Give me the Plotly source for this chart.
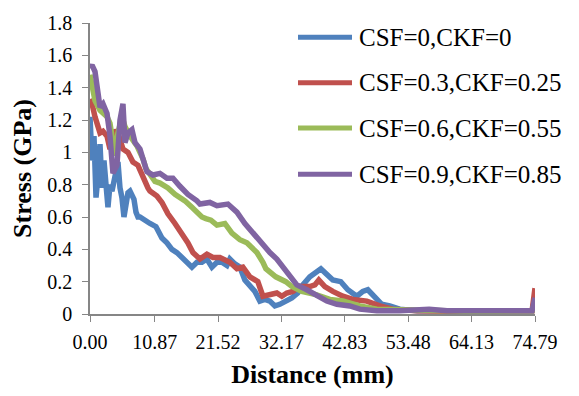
import plotly.graph_objects as go

# Stress along the distance for four CSF/CKF combinations
names = ["CSF=0,CKF=0", "CSF=0.3,CKF=0.25", "CSF=0.6,CKF=0.55", "CSF=0.9,CKF=0.85"]
colors = ["#4F81BD", "#C0504D", "#9BBB59", "#8064A2"]

dist_a = [0.00, 0.34, 0.67, 1.01, 1.34, 1.68, 2.02, 2.35, 2.69, 3.02, 3.36, 3.69, 4.03,
          4.37, 4.70, 5.04, 5.37, 5.71, 6.05, 6.38, 6.72, 7.05, 7.39, 7.73, 8.06, 8.40,
          9.07, 10.08, 11.09, 12.09, 12.93, 13.77, 14.61, 15.45, 16.29, 17.13, 17.97,
          18.81, 19.65, 20.49, 21.33, 22.17, 23.01, 23.51, 24.35, 25.19, 26.03, 26.87,
          27.71, 28.55, 29.39, 30.23, 31.07, 31.90, 32.91, 33.92, 34.93, 35.77, 36.95,
          38.12, 38.80, 39.64, 40.81, 42.15, 43.33, 44.84, 45.85, 46.69, 47.86, 49.04,
          50.38, 52.05, 55.0, 58.0, 61.0, 64.0, 67.0, 70.0, 72.5, 74.3, 74.79]
stress_a = [1.22, 0.95, 1.10, 0.72, 0.85, 1.05, 0.78, 0.95, 0.80, 0.66, 0.80, 0.76, 0.82,
            0.90, 0.94, 0.78, 0.72, 0.60, 0.68, 0.75, 0.76, 0.74, 0.71, 0.63, 0.60, 0.60,
            0.58, 0.56, 0.54, 0.47, 0.44, 0.40, 0.38, 0.35, 0.31, 0.29, 0.32,
            0.32, 0.34, 0.29, 0.32, 0.32, 0.30, 0.34, 0.31, 0.29, 0.21, 0.17,
            0.14, 0.08, 0.09, 0.08, 0.05, 0.06, 0.08, 0.10, 0.13, 0.18, 0.23,
            0.26, 0.28, 0.25, 0.21, 0.20, 0.15, 0.11, 0.14, 0.15, 0.11, 0.06,
            0.05, 0.03, 0.02, 0.02, 0.015, 0.02, 0.015, 0.02, 0.02, 0.02, 0.05]

dist_b = [0.00, 0.34, 0.84, 1.68, 2.18, 2.86, 3.36, 3.86, 4.37, 4.87, 5.54, 6.38, 7.22,
          8.06, 8.90, 9.74, 10.08, 11.25, 12.09, 13.10, 14.28, 15.45, 16.46, 17.30,
          18.48, 19.65, 20.66, 21.83, 23.51, 24.69, 25.70, 26.87, 28.21, 29.06, 30.23,
          31.40, 32.24, 33.08, 34.09, 35.27, 36.95, 37.79, 38.46, 39.47, 40.81, 42.49,
          44.17, 46.52, 48.71, 50.89, 55.0, 60.0, 65.0, 70.0, 74.3, 74.79]
stress_b = [1.33, 1.30, 1.22, 1.12, 1.13, 1.10, 1.02, 1.08, 1.14, 1.10, 1.02, 1.00, 0.94,
            0.92, 0.84, 0.78, 0.76, 0.73, 0.69, 0.62, 0.56, 0.50, 0.44, 0.38,
            0.34, 0.37, 0.35, 0.35, 0.32, 0.28, 0.29, 0.23, 0.20, 0.11, 0.12,
            0.13, 0.11, 0.13, 0.14, 0.17, 0.17, 0.18, 0.21, 0.17, 0.14, 0.11,
            0.09, 0.08, 0.05, 0.03, 0.02, 0.015, 0.015, 0.02, 0.02, 0.16]

dist_c = [0.00, 0.34, 0.84, 1.68, 2.86, 3.36, 3.86, 4.20, 4.70, 5.37, 5.88, 6.72, 7.89,
          8.90, 9.40, 10.08, 10.92, 11.76, 13.10, 14.28, 15.96, 17.13, 18.81, 19.48,
          20.32, 21.33, 22.67, 23.85, 25.19, 26.37, 28.05, 29.06, 29.56, 31.23, 32.91,
          33.92, 35.60, 37.96, 40.31, 42.49, 45.35, 48.20, 55.0, 60.0, 65.0, 70.0,
          74.3, 74.79]
stress_c = [1.48, 1.40, 1.32, 1.26, 1.22, 1.18, 1.05, 0.98, 1.12, 1.22, 1.16, 1.10, 1.04,
            0.96, 0.90, 0.86, 0.82, 0.81, 0.78, 0.74, 0.70, 0.66, 0.60, 0.59,
            0.58, 0.55, 0.56, 0.50, 0.46, 0.44, 0.38, 0.32, 0.28, 0.23, 0.20,
            0.17, 0.14, 0.12, 0.09, 0.08, 0.05, 0.03, 0.02, 0.02, 0.015, 0.02,
            0.02, 0.08]

dist_d = [0.00, 0.34, 0.84, 1.18, 1.68, 2.18, 2.86, 3.36, 3.86, 4.53, 5.04, 5.54, 5.88,
          6.38, 7.05, 7.56, 8.40, 8.90, 9.57, 10.58, 11.76, 12.93, 13.94, 15.12, 16.46,
          17.97, 18.48, 20.15, 21.33, 23.18, 24.69, 26.03, 27.38, 28.89, 30.23, 31.40,
          33.08, 34.76, 36.44, 37.79, 39.80, 41.49, 43.67, 45.35, 48.20, 52.0, 57.0,
          60.0, 65.0, 70.0, 74.3, 74.79]
stress_d = [1.52, 1.54, 1.50, 1.38, 1.28, 1.30, 1.24, 1.10, 0.87, 0.92, 1.20, 1.30, 1.06,
            1.12, 1.14, 1.06, 1.02, 0.96, 0.88, 0.86, 0.87, 0.84, 0.84, 0.79, 0.74,
            0.70, 0.68, 0.69, 0.67, 0.68, 0.63, 0.56, 0.50, 0.43, 0.38, 0.34,
            0.26, 0.18, 0.15, 0.12, 0.08, 0.06, 0.05, 0.03, 0.02, 0.02, 0.03,
            0.02, 0.02, 0.025, 0.02, 0.10]

x_ticks = [0.00, 10.87, 21.52, 32.17, 42.83, 53.48, 64.13, 74.79]
x_tick_text = ["0.00", "10.87", "21.52", "32.17", "42.83", "53.48", "64.13", "74.79"]
y_ticks = [0, 0.2, 0.4, 0.6, 0.8, 1.0, 1.2, 1.4, 1.6, 1.8]
y_tick_text = ["0", "0.2", "0.4", "0.6", "0.8", "1", "1.2", "1.4", "1.6", "1.8"]

series = [(dist_a, stress_a), (dist_b, stress_b), (dist_c, stress_c), (dist_d, stress_d)]

W, H = 579, 396
ML, MR, MT, MB = 90, 44, 17, 80
FONT = "Liberation Serif"
AXIS_GREY = "#868686"

fig = go.Figure()
for (xs, ys), name, col in zip(series, names, colors):
    fig.add_trace(go.Scatter(x=xs, y=ys, name=name, mode="lines",
                             line=dict(color=col, width=5.5),
                             cliponaxis=False, showlegend=False))

# legend drawn as line samples with labels, top right over the plot
pw, ph = W - ML - MR, H - MT - MB


def px_to_paper(px, py):
    return (px - ML) / pw, (H - MB - py) / ph


legend_rows = [31.7, 78.3, 125.0, 172.3]
for row_y, name, col in zip(legend_rows, names, colors):
    x0, y0 = px_to_paper(298, row_y)
    x1, _ = px_to_paper(352, row_y)
    fig.add_shape(type="line", xref="paper", yref="paper", x0=x0, x1=x1, y0=y0, y1=y0,
                  line=dict(color=col, width=5))
    tx, _ = px_to_paper(357, row_y)
    fig.add_annotation(xref="paper", yref="paper", x=tx, y=y0, text=name,
                       showarrow=False, xanchor="left", yanchor="middle",
                       font=dict(family=FONT, size=25, color="black"))

fig.update_layout(
    width=W, height=H,
    margin=dict(l=ML, r=MR, t=MT, b=MB),
    paper_bgcolor="white", plot_bgcolor="white",
    font=dict(family=FONT, color="black", size=20),
    xaxis=dict(range=[0, 74.79], tickvals=x_ticks, ticktext=x_tick_text,
               showgrid=False, zeroline=False, showline=True, linecolor=AXIS_GREY,
               linewidth=1.5, ticks="outside", ticklen=6, tickcolor=AXIS_GREY,
               tickwidth=1.3, tickfont=dict(family=FONT, size=20, color="black"),
               ticklabelstandoff=3,
               title=dict(text="<b>Distance (mm)</b>", standoff=13,
                          font=dict(family=FONT, size=26, color="black"))),
    yaxis=dict(range=[0, 1.8], tickvals=y_ticks, ticktext=y_tick_text,
               showgrid=False, zeroline=False, showline=True, linecolor=AXIS_GREY,
               linewidth=1.5, ticks="outside", ticklen=6, tickcolor=AXIS_GREY,
               tickwidth=1.3, tickfont=dict(family=FONT, size=20, color="black"),
               ticklabelstandoff=6,
               title=dict(text="<b>Stress (GPa)</b>", standoff=8,
                          font=dict(family=FONT, size=26, color="black"))),
)

fig.write_html("out.html")
